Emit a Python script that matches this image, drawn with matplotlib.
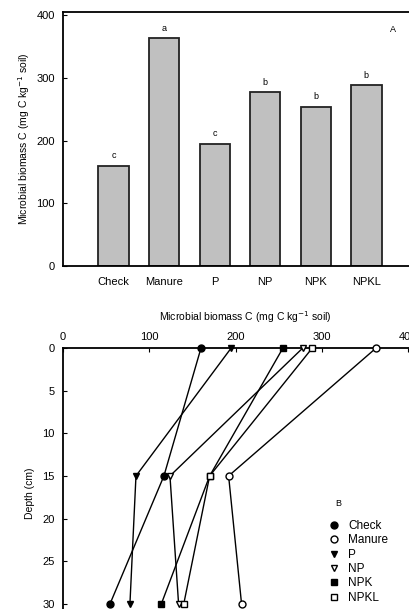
import numpy as np
import matplotlib
matplotlib.use("Agg")
import matplotlib.pyplot as plt

plt.rcParams['font.family'] = ['Liberation Sans', 'DejaVu Sans']

treatments = ['Check', 'Manure', 'P', 'NP', 'NPK', 'NPKL']
biomass = [160, 363, 195, 277, 254, 288]
letters = ['c', 'a', 'c', 'b', 'b', 'b']

depths = [0, 15, 30]
profiles = {
    'Check':  [160, 117, 54.5],
    'Manure': [363, 192, 207],
    'P':      [195, 84.6, 77.6],
    'NP':     [278, 124, 134],
    'NPK':    [255, 170, 114],
    'NPKL':   [289, 170, 140],
}
markers = {'Check': ('o', 'k'), 'Manure': ('o', 'w'), 'P': ('v', 'k'),
           'NP': ('v', 'w'), 'NPK': ('s', 'k'), 'NPKL': ('s', 'w')}

W, H = 409, 609
fig = plt.figure(figsize=(W/100, H/100), dpi=100)

def px(l, t, r, b):
    return [l/W, 1 - b/H, (r - l)/W, (b - t)/H]

# top panel: bars
ax1 = fig.add_axes(px(63, 12, 427, 266))
x = np.arange(1, 7)
ax1.bar(x, biomass, width=0.6, color='#c0c0c0', edgecolor='#222222', linewidth=1.3)
for xi, v, s in zip(x, biomass, letters):
    ax1.text(xi, v + 9, s, ha='center', va='bottom', fontsize=6.5)
ax1.set_xlim(0, 7.2)
ax1.set_ylim(0, 405)
ax1.set_yticks([0, 100, 200, 300, 400])
ax1.set_xticks(x)
ax1.set_xticklabels(treatments, fontsize=8)
ax1.tick_params(axis='x', length=0, pad=8)
ax1.tick_params(axis='y', direction='in', length=3, labelsize=8, pad=6)
ax1.set_ylabel('Microbial biomass C (mg C kg$^{-1}$ soil)', fontsize=7.5, labelpad=3)
for s in ['left', 'bottom', 'top']:
    ax1.spines[s].set_linewidth(1.3)
fig.text(393 / W, 1 - 30 / H, 'A', fontsize=6.5, ha='center', va='center')

# bottom panel: depth profiles
ax2 = fig.add_axes(px(63, 348, 427, 638))
for name in treatments:
    m, fc = markers[name]
    ax2.plot(profiles[name], depths, color='k', linewidth=1.0, marker=m,
             markerfacecolor=fc, markeredgecolor='k', markersize=5,
             markeredgewidth=1.0, label=name, clip_on=False, zorder=3)
ax2.set_xlim(0, 422)
ax2.set_ylim(34, 0)
ax2.xaxis.tick_top()
ax2.xaxis.set_label_position('top')
ax2.set_xticks([0, 100, 200, 300, 400])
ax2.set_yticks([0, 5, 10, 15, 20, 25, 30])
ax2.tick_params(direction='in', length=3, labelsize=8, pad=4)
ax2.tick_params(axis='y', pad=6)
ax2.set_xlabel('Microbial biomass C (mg C kg$^{-1}$ soil)', fontsize=7.5, labelpad=8)
ax2.set_ylabel('Depth (cm)', fontsize=7.5, labelpad=5)
ax2.spines['right'].set_visible(False)
ax2.spines['bottom'].set_visible(False)
for s in ['left', 'top']:
    ax2.spines[s].set_linewidth(1.3)
leg = ax2.legend(loc='upper left', bbox_to_anchor=((327 - 63) / 364, 1 - (520 - 348) / 290),
                 frameon=False, fontsize=8.5, handlelength=1.2, handletextpad=0.6,
                 labelspacing=0.2, borderaxespad=0, borderpad=0)
for h in leg.legend_handles:
    h.set_linestyle('none')
fig.text(338 / W, 1 - 503 / H, 'B', fontsize=6.5, ha='center', va='center')

fig.savefig('out.png', dpi=100)
